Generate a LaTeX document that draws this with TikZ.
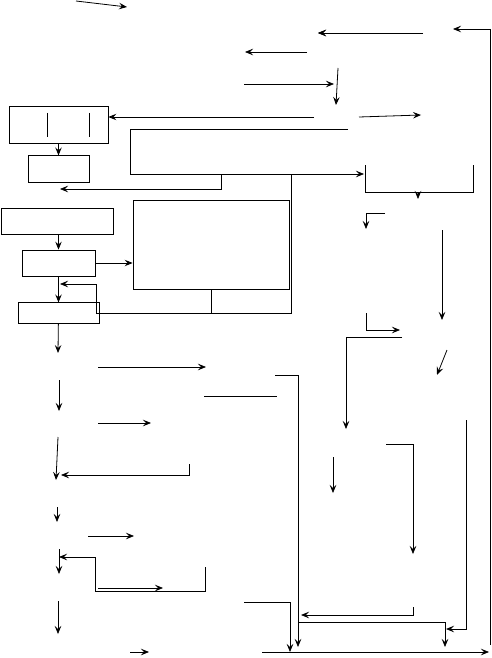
\documentclass[tikz,border=0pt]{standalone}
\usepackage{tikz}
\usetikzlibrary{arrows.meta,positioning}

\begin{document}
\begin{tikzpicture}[x=1pt,y=-1pt,>={Stealth[length=8pt,width=6.5pt,inset=3pt]},line width=0.8pt,
  box/.style={draw,inner sep=0pt}]
  \useasboundingbox (0,0) rectangle (492,658);
  % boxes, left column and middle
  \node[box,minimum width=99pt,minimum height=37pt] (fld) at (58.5,124.5) {};
  \node[box,minimum width=61pt,minimum height=27pt,below=12pt of fld] (sel) {};
  \node[box,minimum width=112pt,minimum height=26pt] (inp) at (57,221) {};
  \node[box,minimum width=73pt,minimum height=26pt] (chk) at (58.5,263) {};
  \node[box,minimum width=81pt,minimum height=21pt,below=26pt of chk] (run) {};
  \node[box,minimum width=156pt,minimum height=89pt] (mem) at (211,244.5) {};
  \draw (47,113) -- (47,137) (89,113) -- (89,137);

  % free ends
  \coordinate (t1) at (76,1);    \coordinate (t2) at (127,7);
  \coordinate (t3) at (423,33);  \coordinate (t4) at (318,33);
  \coordinate (t5) at (307,52);  \coordinate (t6) at (245,52);
  \coordinate (t7) at (244,84);  \coordinate (t8) at (334,84);
  \coordinate (t9) at (338,68);  \coordinate (t10) at (336,105);
  \coordinate (t11) at (314,117);
  \coordinate (t12) at (359,117); \coordinate (t13) at (421,115);
  \coordinate (rt) at (453,29);  \coordinate (rb) at (490,645);
  \coordinate (fr1) at (348,129); \coordinate (fr2) at (364,174);
  \coordinate (fr3) at (348,174); \coordinate (fr4) at (96,313);
  \coordinate (fr5) at (60,189);
  \coordinate (br1) at (365,165); \coordinate (br2) at (473,165);
  \coordinate (br3) at (418,192); \coordinate (br4) at (418,199);
  \coordinate (r1) at (385,213); \coordinate (r2) at (366,229);
  \coordinate (r3) at (442,230); \coordinate (r4) at (442,320);
  \coordinate (r5) at (366,313); \coordinate (r6) at (400,330);
  \coordinate (r7) at (447,350); \coordinate (r8) at (437,375);
  \coordinate (r9) at (402,337); \coordinate (r10) at (346,429);
  \coordinate (r11) at (386,444); \coordinate (r12) at (413,554);
  \coordinate (r13) at (413,607); \coordinate (r14) at (301,615);
  \coordinate (r15) at (466,420); \coordinate (r16) at (446,629);
  \coordinate (r17) at (333,457); \coordinate (r18) at (333,493);
  \coordinate (m1) at (275,375); \coordinate (m2) at (298,647);
  \coordinate (m3) at (298,622); \coordinate (m4) at (445,647);
  \coordinate (m5) at (244,602); \coordinate (m6) at (290,652);
  \coordinate (m7) at (262,652); \coordinate (m8) at (489,652);
  \coordinate (l1) at (58,353);
  \coordinate (l2) at (59,380);  \coordinate (l3) at (59,411);
  \coordinate (l4) at (58,437);  \coordinate (l5) at (56,480);
  \coordinate (l6) at (57,507);  \coordinate (l7) at (57,522);
  \coordinate (l8) at (59,549);  \coordinate (l9) at (59,574);
  \coordinate (l10) at (58,601); \coordinate (l11) at (58,634);
  \coordinate (s1) at (98,367);  \coordinate (s2) at (206,367);
  \coordinate (s3) at (204,396); \coordinate (s4) at (277,396);
  \coordinate (s5) at (98,423);  \coordinate (s6) at (151,423);
  \coordinate (s7) at (189,464); \coordinate (s8) at (61,475);
  \coordinate (s9) at (88,536);  \coordinate (s10) at (134,536);
  \coordinate (s11) at (205,567); \coordinate (s12) at (59,557);
  \coordinate (s13) at (98,588); \coordinate (s14) at (163,588);
  \coordinate (s15) at (130,652); \coordinate (s16) at (149,652);

  % top part
  \draw[->] (t1) -- (t2);
  \draw[->] (t3) -- (t4);
  \draw[->] (t4) ++(4,0) -- (t4);
  \draw[->] (t5) -- (t6);
  \draw[->] (t7) -- (t8);
  \draw[->] (t9) -- (t10);
  \draw[->] (t11) -- (t11 -| fld.east);
  \draw[->] (t12) -- (t13);
  \draw[->] (rb) -- (rb |- rt) -- (rt);
  \draw[->] (fld) -- (sel);
  \draw[->] (fr1) -- (130,129) -- (130,174) -- (fr2);
  \draw (fr3) -- (291,174) -- (291,313) -- (fr4);
  \draw[->] (221,174) -- (221,189) -- (fr5);
  \draw (br1) -- (br1 |- br3) -- (br2 |- br3) -- (br2);
  \draw[->] (br3) -- (br4);

  % left column
  \draw[->] (chk.north |- inp.south) -- (chk.north);
  \draw[->] (chk.east) -- (chk.east -| mem.west);
  \draw[->] (chk) -- (run);
  \draw[->] (mem.south) -- (211,313) -- (fr4) -- (96,284) -- (60,284);
  \draw[->] (run) -- (l1);
  \draw[->] (l2) -- (l3);
  \draw[->] (l4) -- (l5);
  \draw[->] (l6) -- (l7);
  \draw[->] (l8) -- (l9);
  \draw[->] (l10) -- (l11);
  \draw[->] (s1) -- (s2);
  \draw (s3) -- (s4);
  \draw[->] (s5) -- (s6);
  \draw[->] (s7) -- (s7 |- s8) -- (s8);
  \draw[->] (s9) -- (s10);
  \draw[->] (s11) -- (205,591) -- (95,591) -- (95,557) -- (s12);
  \draw[->] (s13) -- (s14);
  \draw[->] (s15) -- (s16);

  % right side
  \draw[->] (r1) -- (r1 -| r2) -- (r2);
  \draw[->] (r3) -- (r4);
  \draw[->] (r5) -- (r5 |- r6) -- (r6);
  \draw[->] (r7) -- (r8);
  \draw[->] (r9) -- (r9 -| r10) -- (r10);
  \draw[->] (r11) -- (r11 -| r12) -- (r12);
  \draw[->] (r13) -- (r13 |- r14) -- (r14);
  \draw[->] (r15) -- (r15 |- r16) -- (r16);
  \draw[->] (r17) -- (r18);

  % bottom
  \draw[->] (m1) -- (m1 -| m2) -- (m2);
  \draw[->] (m3) -- (m3 -| m4) -- (m4);
  \draw[->] (m5) -- (m5 -| m6) -- (m6);
  \draw[->] (m7) -- (m8);
\end{tikzpicture}
\end{document}
